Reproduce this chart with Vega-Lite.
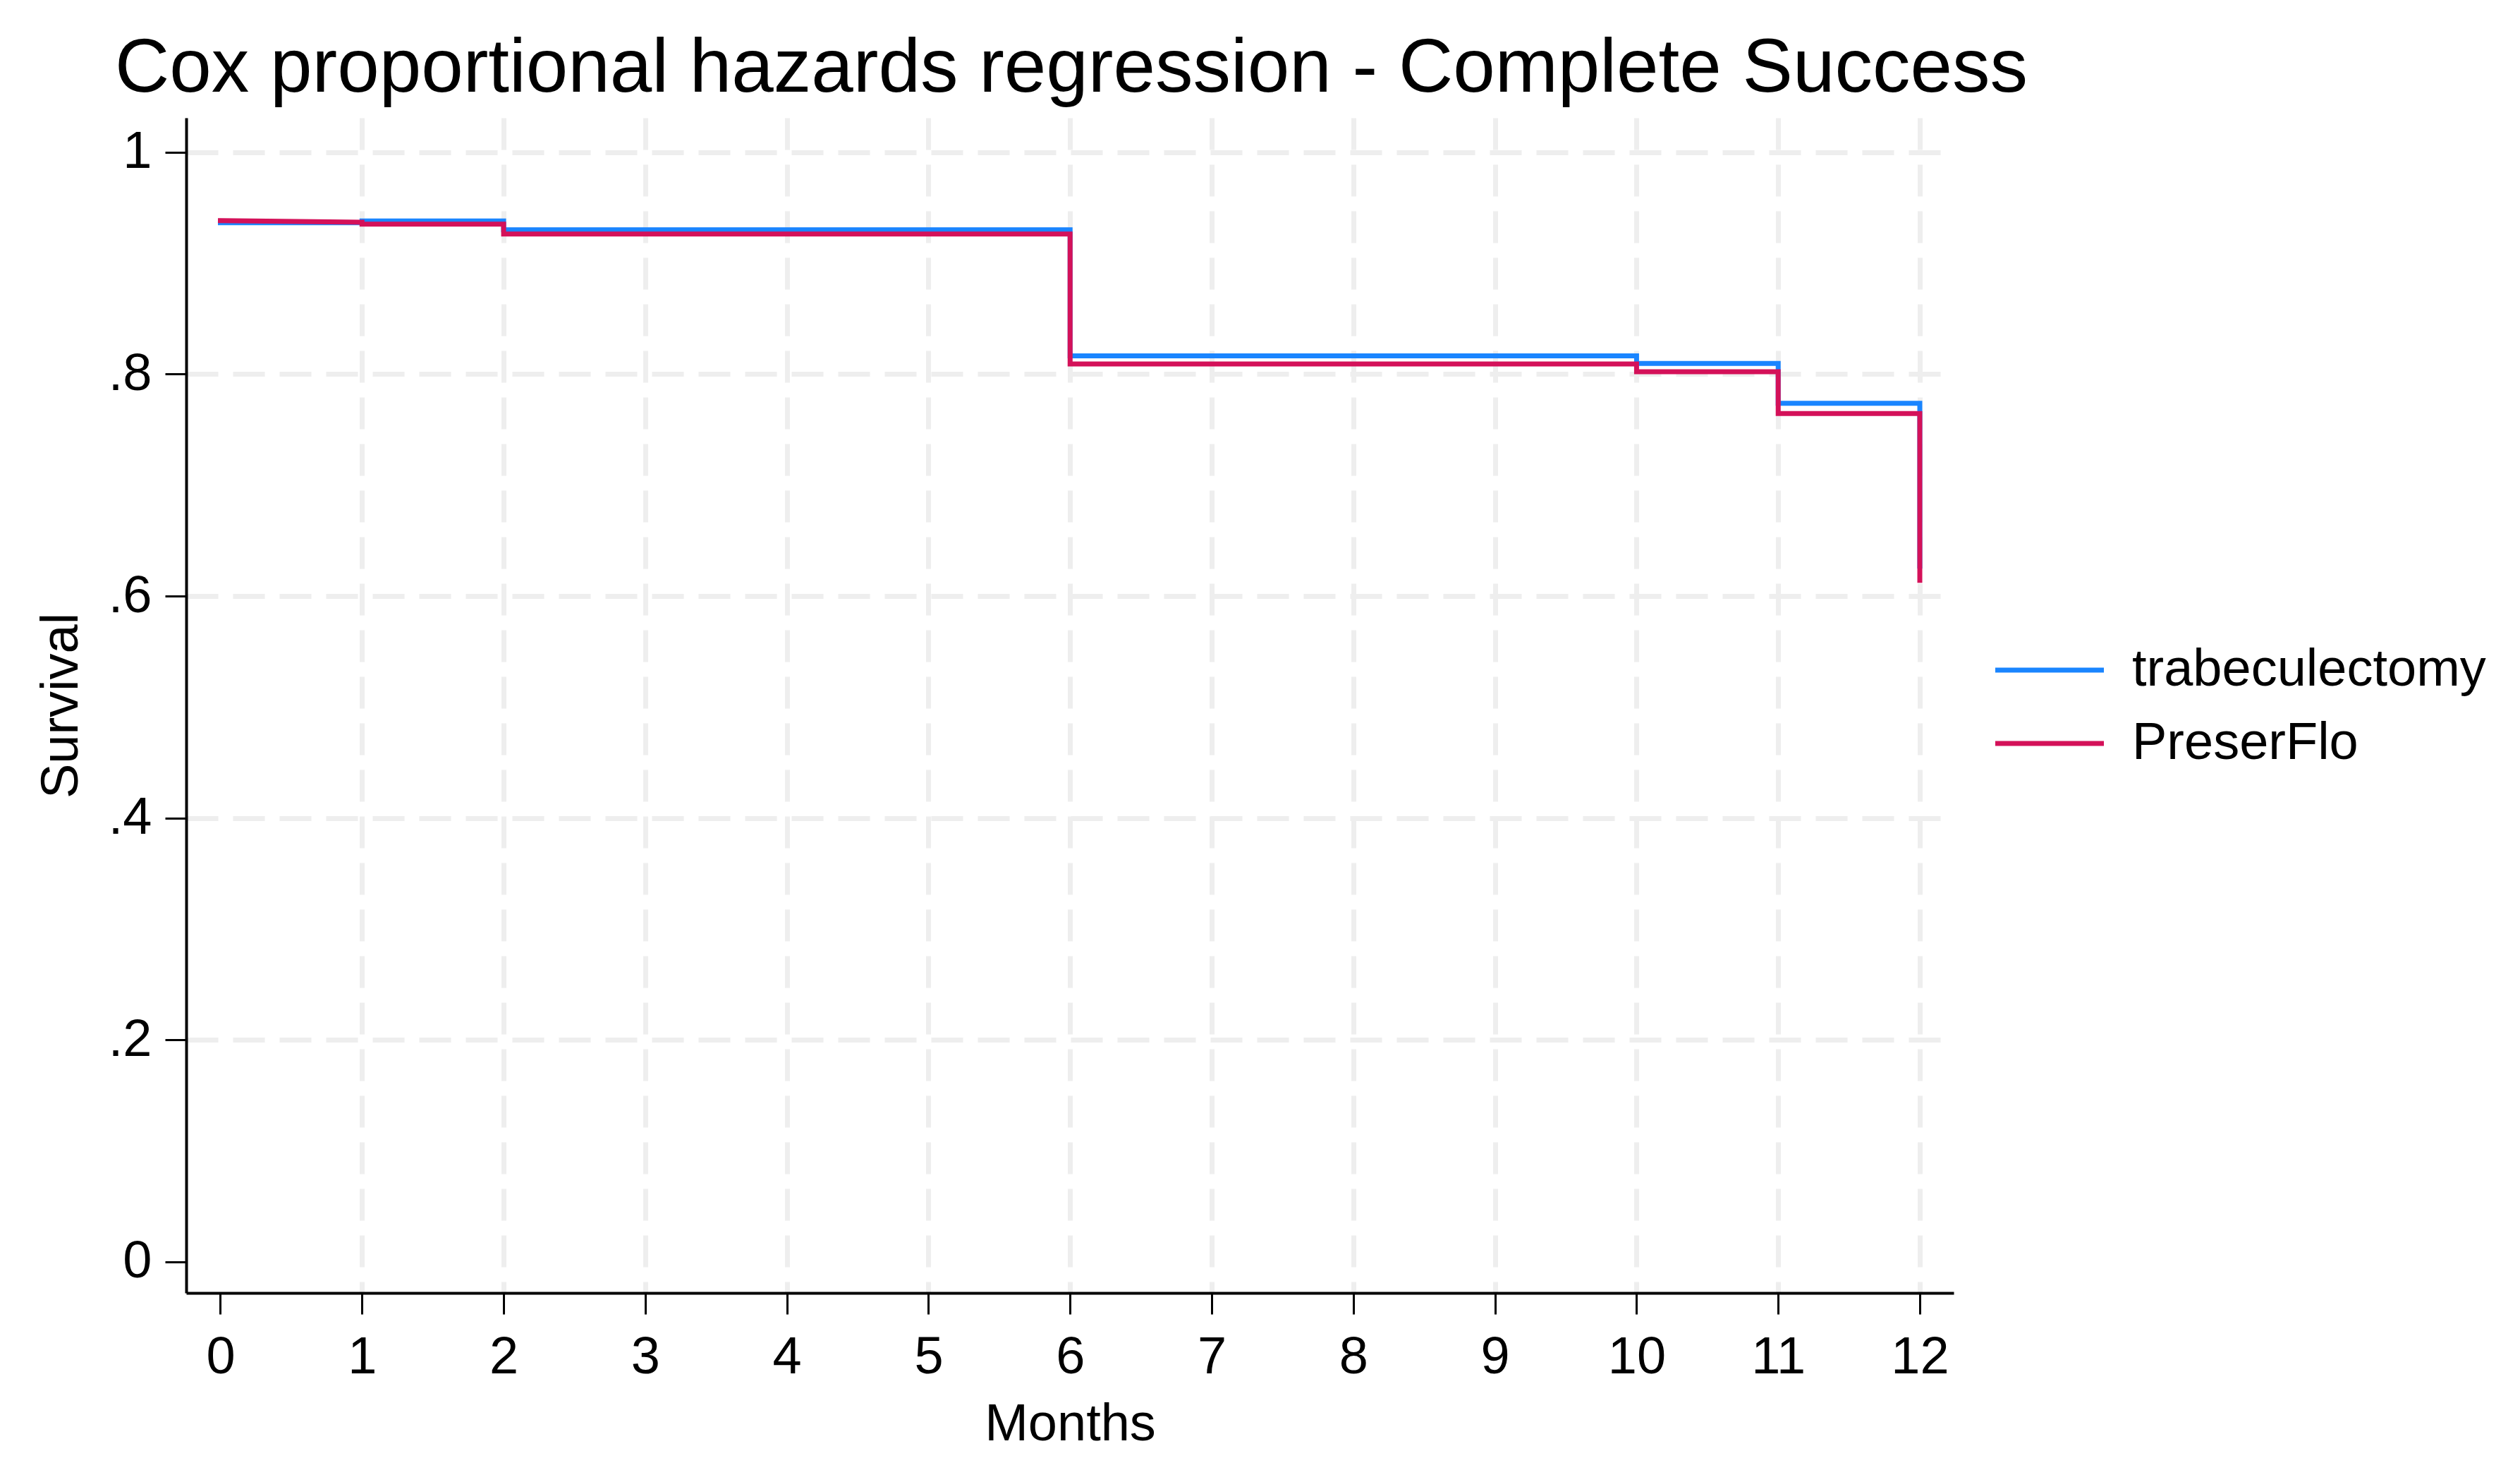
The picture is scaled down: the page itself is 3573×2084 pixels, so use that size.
{
  "$schema": "https://vega.github.io/schema/vega-lite/v6.json",
  "width": 2506,
  "height": 1666,
  "autosize": {"type": "none"},
  "padding": {"left": 264, "top": 167, "right": 803, "bottom": 251},
  "background": "white",
  "config": {"view": {"stroke": null}, "font": "Liberation Sans"},
  "title": {
    "text": "Cox proportional hazards regression - Complete Success",
    "anchor": "start",
    "frame": "group",
    "dx": -101,
    "offset": -70,
    "baseline": "alphabetic",
    "fontSize": 107,
    "fontWeight": "normal",
    "color": "black",
    "font": "Liberation Sans"
  },
  "data": {
    "values": [
      {"group": "trabeculectomy", "ord": 1, "month": 0, "survival": 0.9365},
      {"group": "trabeculectomy", "ord": 2, "month": 1, "survival": 0.9365},
      {"group": "trabeculectomy", "ord": 3, "month": 1, "survival": 0.938},
      {"group": "trabeculectomy", "ord": 4, "month": 2, "survival": 0.938},
      {"group": "trabeculectomy", "ord": 5, "month": 2, "survival": 0.9301},
      {"group": "trabeculectomy", "ord": 6, "month": 6, "survival": 0.9301},
      {"group": "trabeculectomy", "ord": 7, "month": 6, "survival": 0.8165},
      {"group": "trabeculectomy", "ord": 8, "month": 10, "survival": 0.8165},
      {"group": "trabeculectomy", "ord": 9, "month": 10, "survival": 0.8096},
      {"group": "trabeculectomy", "ord": 10, "month": 11, "survival": 0.8096},
      {"group": "trabeculectomy", "ord": 11, "month": 11, "survival": 0.7737},
      {"group": "trabeculectomy", "ord": 12, "month": 12, "survival": 0.7737},
      {"group": "trabeculectomy", "ord": 13, "month": 12, "survival": 0.627},
      {"group": "PreserFlo", "ord": 1, "month": 0, "survival": 0.9383},
      {"group": "PreserFlo", "ord": 2, "month": 1, "survival": 0.9369},
      {"group": "PreserFlo", "ord": 3, "month": 1, "survival": 0.9351},
      {"group": "PreserFlo", "ord": 4, "month": 2, "survival": 0.9351},
      {"group": "PreserFlo", "ord": 5, "month": 2, "survival": 0.9262},
      {"group": "PreserFlo", "ord": 6, "month": 6, "survival": 0.9262},
      {"group": "PreserFlo", "ord": 7, "month": 6, "survival": 0.8091},
      {"group": "PreserFlo", "ord": 8, "month": 10, "survival": 0.8091},
      {"group": "PreserFlo", "ord": 9, "month": 10, "survival": 0.8021},
      {"group": "PreserFlo", "ord": 10, "month": 11, "survival": 0.8021},
      {"group": "PreserFlo", "ord": 11, "month": 11, "survival": 0.7645},
      {"group": "PreserFlo", "ord": 12, "month": 12, "survival": 0.7645},
      {"group": "PreserFlo", "ord": 13, "month": 12, "survival": 0.6141}
    ]
  },
  "encoding": {
    "x": {
      "field": "month",
      "type": "quantitative",
      "scale": {"domain": [-0.2415, 12.239], "nice": false, "zero": false},
      "axis": {
        "values": [0, 1, 2, 3, 4, 5, 6, 7, 8, 9, 10, 11, 12],
        "title": "Months",
        "titleFontSize": 74,
        "titleFontWeight": "normal",
        "titleColor": "black",
        "titlePadding": 22,
        "labelFontSize": 74,
        "labelColor": "black",
        "labelPadding": 25,
        "labelFlush": false,
        "labelOverlap": false,
        "tickSize": 30,
        "tickWidth": 3,
        "tickColor": "black",
        "domainColor": "black",
        "domainWidth": 4,
        "grid": true,
        "gridColor": "#EEEEEE",
        "gridWidth": 7,
        "gridDash": [45, 21],
        "gridOpacity": {"condition": {"test": "datum.value == 0", "value": 0}, "value": 1}
      }
    },
    "y": {
      "field": "survival",
      "type": "quantitative",
      "scale": {"domain": [-0.028, 1.031], "nice": false, "zero": false},
      "axis": {
        "values": [0, 0.2, 0.4, 0.6, 0.8, 1],
        "labelExpr": "datum.value == 0 ? '0' : datum.value == 1 ? '1' : replace(format(datum.value, '.1f'), '0.', '.')",
        "title": "Survival",
        "titleFontSize": 74,
        "titleFontWeight": "normal",
        "titleColor": "black",
        "titlePadding": 28,
        "labelFontSize": 74,
        "labelColor": "black",
        "labelPadding": 19,
        "labelFlush": false,
        "labelOverlap": false,
        "tickSize": 30,
        "tickWidth": 3,
        "tickColor": "black",
        "domainColor": "black",
        "domainWidth": 4,
        "grid": true,
        "gridColor": "#EEEEEE",
        "gridWidth": 7,
        "gridDash": [45, 21],
        "gridOpacity": {"condition": {"test": "datum.value == 0", "value": 0}, "value": 1}
      }
    },
    "color": {
      "field": "group",
      "type": "nominal",
      "scale": {"domain": ["trabeculectomy", "PreserFlo"], "range": ["#1A85FF", "#D41159"]},
      "legend": {
        "orient": "none",
        "legendX": 2600,
        "legendY": 741,
        "title": null,
        "padding": 0,
        "symbolType": "M-2,0H2",
        "symbolSize": 5929,
        "symbolStrokeWidth": 7,
        "labelFontSize": 74,
        "labelColor": "black",
        "labelOffset": 75,
        "labelLimit": 1000,
        "rowPadding": 25
      }
    },
    "order": {"field": "ord", "type": "quantitative"}
  },
  "layer": [
    {
      "transform": [{"filter": "datum.group == 'trabeculectomy'"}],
      "mark": {"type": "line", "strokeWidth": 7, "strokeJoin": "miter", "strokeCap": "square"}
    },
    {
      "transform": [{"filter": "datum.group == 'PreserFlo'"}],
      "mark": {"type": "line", "strokeWidth": 7, "strokeJoin": "miter", "strokeCap": "square"}
    }
  ]
}
